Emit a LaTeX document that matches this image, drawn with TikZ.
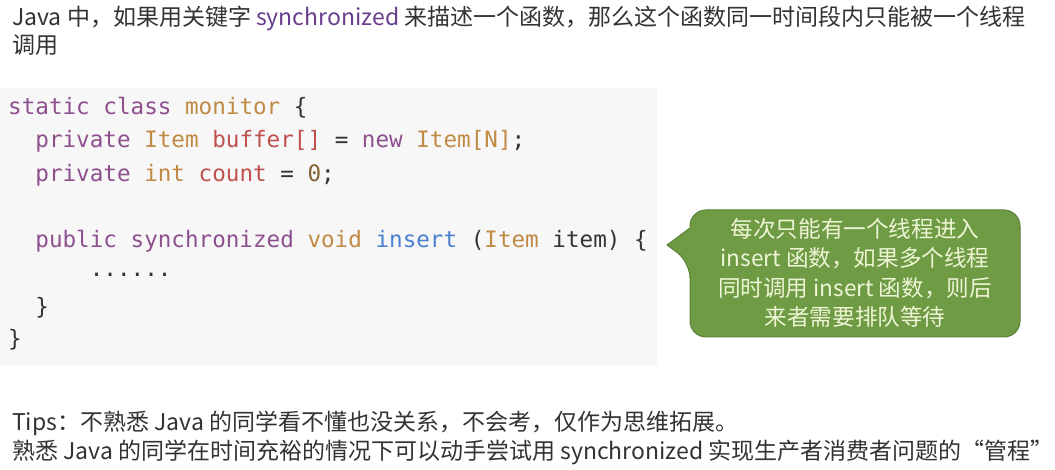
\documentclass[tikz,border=0pt]{standalone}
\usepackage{fontspec}
\setmainfont{Noto Sans CJK SC}
\newfontfamily\codefont{DejaVu Sans Mono}
\definecolor{kw}{HTML}{8E4F8E}
\definecolor{ty}{HTML}{C08A45}
\definecolor{vr}{HTML}{C0504D}
\definecolor{fn}{HTML}{4A80D0}
\definecolor{tx}{HTML}{333333}
\definecolor{bg}{HTML}{F7F7F7}
\definecolor{bub}{HTML}{6F9B45}
\definecolor{bubd}{HTML}{5A8038}
\definecolor{bubt}{HTML}{EEF5D5}
\definecolor{syn}{HTML}{6A3E8E}
\begin{document}
\begin{tikzpicture}[x=1pt,y=-1pt,
  txt/.style={anchor=west,inner sep=0,font=\fontsize{23}{26}\selectfont,text=tx},
  code/.style={anchor=west,inner sep=0,font=\codefont\fontsize{22.6}{26}\selectfont,text=tx},
  btxt/.style={align=center,inner sep=0,font=\fontsize{22.6}{29.5}\selectfont,text=bubt}]
\useasboundingbox (0,0) rectangle (1055,470);
\fill[white] (0,0) rectangle (1055,470);
\node[txt] (t1) at (12,18) {Java 中，如果用关键字 \textcolor{syn}{synchronized} 来描述一个函数，那么这个函数同一时间段内只能被一个线程};
\node[txt] (t2) at (12,45) {调用};
\fill[bg] (0,88) rectangle (657,365);
\node[code] (c1) at (8,108) {\textcolor{kw}{static class} \textcolor{ty}{monitor} \{};
\node[code] (c2) at (8,141) {\ \ \textcolor{kw}{private} \textcolor{ty}{Item} \textcolor{vr}{buffer[]} = \textcolor{kw}{new} \textcolor{ty}{Item[N]};};
\node[code] (c3) at (8,175) {\ \ \textcolor{kw}{private} \textcolor{ty}{int} \textcolor{vr}{count} = \textcolor{ty!70!black}{0};};
\node[code] (c4) at (8,241) {\ \ \textcolor{kw}{public synchronized} \textcolor{ty}{void} \textcolor{fn}{insert} (\textcolor{ty}{Item} item) \{};
\node[code] (c5) at (8,275) {\ \ \ \ \ \ ......};
\node[code] (c6) at (8,308) {\ \ \}};
\node[code] (c7) at (8,340) {\}};
\draw[fill=bub,draw=bubd,line width=1pt,rounded corners=16pt]
  (690,228) -- (690,210) -- (1020,210) -- (1020,337) -- (690,337) -- (690,262) [sharp corners] -- (667,245) -- (690,228);
\node[btxt] (b) at (855,273) {每次只能有一个线程进入\\insert 函数，如果多个线程\\同时调用 insert 函数，则后\\来者需要排队等待};
\node[txt] (t3) at (12,423) {Tips：不熟悉 Java 的同学看不懂也没关系，不会考，仅作为思维拓展。};
\node[txt] (t4) at (12,452) {熟悉 Java 的同学在时间充裕的情况下可以动手尝试用 synchronized 实现生产者消费者问题的“管程”};
\end{tikzpicture}
\end{document}
